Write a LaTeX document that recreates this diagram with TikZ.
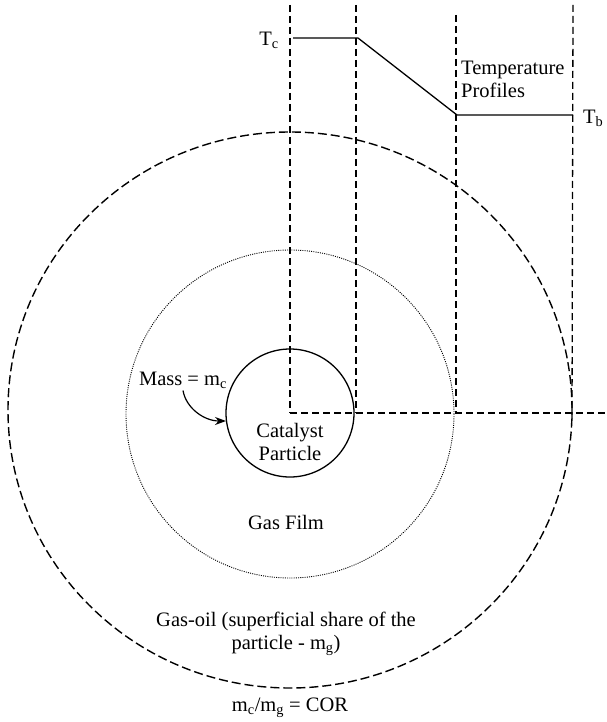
\documentclass[tikz,border=0pt]{standalone}
\usepackage{fontspec}
\setmainfont{Liberation Serif}
\newfontfamily\tms{Liberation Serif}
\usetikzlibrary{arrows.meta}
\begin{document}
\begin{tikzpicture}[x=1pt,y=-1pt,
  lbl/.style={font=\tms\fontsize{20.5}{23}\selectfont, inner sep=0pt, align=center},
  guide/.style={line width=1.3pt, dash pattern=on 7pt off 4pt},
  bigdash/.style={line width=1.4pt, dash pattern=on 9pt off 4pt},
  film/.style={line width=0.9pt, dash pattern=on 1pt off 1.2pt},
  profile/.style={line width=1.3pt},
  particle/.style={line width=1.3pt}]
\useasboundingbox (0,0) rectangle (606,722);
% centre
\coordinate (O) at (290,413);
% circles
\draw[bigdash] (290,410) ellipse [x radius=282pt, y radius=278pt];
\draw[film] (290,414) circle [radius=164pt];
\draw[particle] (O) circle [radius=64pt];
% guide lines
\coordinate (g1t) at (290,5);   \coordinate (g1b) at (290,413);
\coordinate (g2t) at (356,5);   \coordinate (g2b) at (356,413);
\coordinate (g3t) at (456,15);  \coordinate (g3b) at (456,413);
\coordinate (g4t) at (573,5);   \coordinate (g4b) at (572,420);
\coordinate (hR) at (606,413);
\draw[guide] (g1t) -- (g1b);
\draw[guide] (g2t) -- (g2b);
\draw[guide] (g3t) -- (g3b);
\draw[guide] (g4t) -- (g4b);
\draw[guide] (g1b) -- (hR);
% temperature profile
\coordinate (p1) at (293,38);
\coordinate (p2) at (358,38);
\coordinate (p3) at (457,115);
\coordinate (p4) at (573,115);
\draw[profile] (p1) -- (p2) -- (p3) -- (p4);
% labels
\node[lbl] (Tc) at (269,40) {T\textsubscript{c}};
\node[lbl, anchor=west] (Tb) at (583,118) {T\textsubscript{b}};
\node[lbl, anchor=west, align=left] (tp) at (461,79) {Temperature\\Profiles};
\node[lbl] (mass) at (183,380) {Mass = m\textsubscript{c}};
\node[lbl] (cat) at (290,442) {Catalyst\\Particle};
\node[lbl] (gf) at (286,522) {Gas Film};
\node[lbl] (go) at (286,634) {Gas-oil (superficial share of the\\particle - m\textsubscript{g})};
\node[lbl] (cor) at (290,708) {m\textsubscript{c}/m\textsubscript{g} = COR};
% arrow
\coordinate (tip) at (226,421);
\draw[line width=1.2pt, -{Stealth[length=11pt,width=8pt]}] (mass.south) ++(0,2) .. controls (186,408) and (204,421) .. (tip);
\end{tikzpicture}
\end{document}
